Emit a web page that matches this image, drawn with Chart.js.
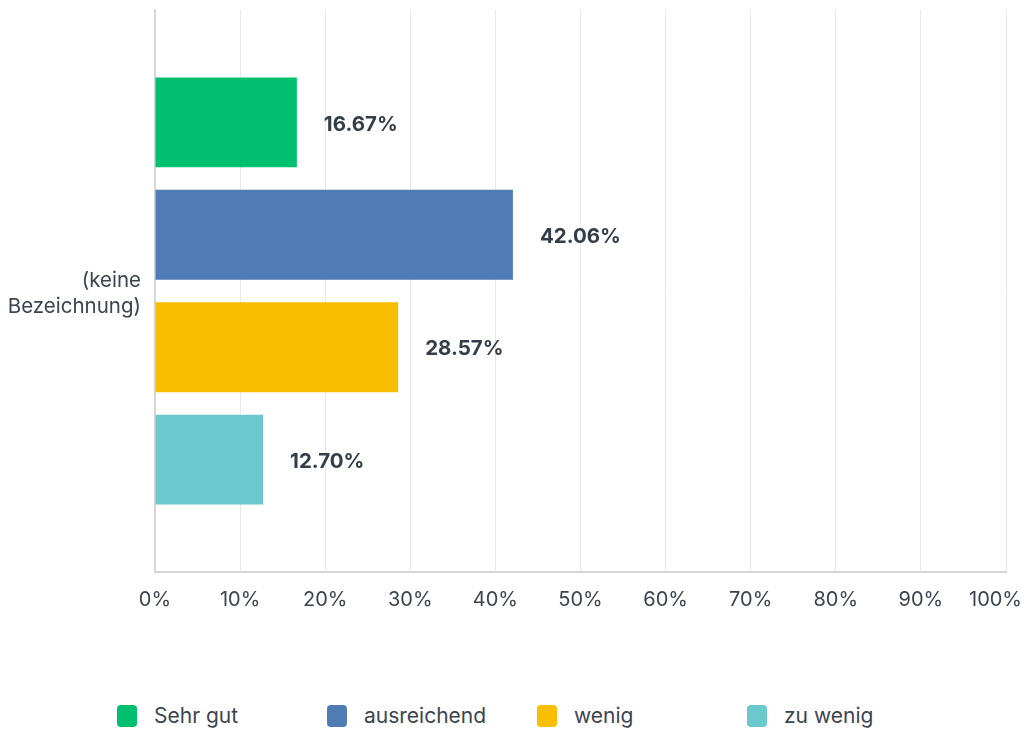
<!DOCTYPE html>
<html>
<head>
<meta charset="utf-8">
<script src="https://cdn.jsdelivr.net/npm/chart.js@4"></script>
<style>
	body { margin: 0; background: #fff; font-family: Inter, sans-serif; }
	#wrap { position: relative; width: 1026px; height: 640px; }
	#legend { position: absolute; top: 703px; left: 117px; display: flex; }
	.item { width: 210px; display: flex; align-items: center; font-size: 21px; color: #3b4550; }
	.box { width: 20px; height: 22px; border-radius: 4px; margin-right: 17px; }
</style>
</head>
<body>
<div id="wrap"><canvas id="chart"></canvas></div>
<div id="legend"></div>
<script>
	const categories = [['(keine', 'Bezeichnung)']];
	const seriesNames = ['Sehr gut', 'ausreichend', 'wenig', 'zu wenig'];
	const seriesValues = [[16.67], [42.06], [28.57], [12.70]];
	const seriesColors = ['#00bf6f', '#507cb6', '#f9be00', '#6bc8cd'];
	const tickValues = [0, 10, 20, 30, 40, 50, 60, 70, 80, 90, 100];

	// Prozentwerte rechts neben den Balken
	const valueLabels = {
		id: 'valueLabels',
		afterDatasetsDraw(chart) {
			const ctx = chart.ctx;
			ctx.save();
			ctx.font = 'bold 20.5px Inter, sans-serif';
			ctx.fillStyle = '#333e48';
			ctx.textBaseline = 'middle';
			chart.data.datasets.forEach((ds, i) => {
				chart.getDatasetMeta(i).data.forEach((bar, j) => {
					ctx.fillText(ds.data[j].toFixed(2) + '%', bar.x + 27, bar.y + 2);
				});
			});
			ctx.restore();
		}
	};

	// letzte Achsenbeschriftung (100%) so verschieben, dass sie nicht abgeschnitten wird
	const lastTick = {
		id: 'lastTick',
		afterDraw(chart) {
			const x = chart.scales.x;
			const v = tickValues[tickValues.length - 1];
			const ctx = chart.ctx;
			ctx.save();
			ctx.font = '20px Inter, sans-serif';
			ctx.fillStyle = '#3b4550';
			ctx.textBaseline = 'middle';
			ctx.textAlign = 'right';
			const w = ctx.measureText(v + '%').width;
			const right = Math.min(x.getPixelForValue(v) + w / 2, chart.width - 4);
			ctx.fillText(v + '%', right, x.top + 28);
			ctx.restore();
		}
	};

	new Chart(document.getElementById('chart'), {
		type: 'bar',
		data: {
			labels: categories,
			datasets: seriesNames.map((name, i) => ({
				label: name,
				data: seriesValues[i],
				backgroundColor: seriesColors[i],
				categoryPercentage: 0.8,
				barPercentage: 0.8
			}))
		},
		options: {
			indexAxis: 'y',
			responsive: true,
			maintainAspectRatio: false,
			animation: false,
			layout: { padding: { top: 10, right: 20 } },
			scales: {
				x: {
					min: 0,
					max: 100,
					afterBuildTicks: (scale) => { scale.ticks = tickValues.map(v => ({ value: v })); },
					afterFit: (scale) => {
						scale.height = 68;
						scale.paddingLeft = 0;
						scale.paddingRight = 0;
					},
					ticks: {
						callback: (v) => v === 100 ? '' : v + '%',
						color: '#3b4550',
						font: { family: 'Inter', size: 20 },
						padding: 16,
						maxRotation: 0
					},
					grid: { color: '#e8e8e8', drawTicks: false },
					border: { color: '#d6d6d6', width: 2 }
				},
				y: {
					afterFit: (scale) => {
						scale.width = 155;
						scale.paddingTop = 0;
						scale.paddingBottom = 0;
					},
					ticks: {
						color: '#3b4550',
						font: { family: 'Inter', size: 20.5, lineHeight: 1.28 },
						padding: 14,
						labelOffset: 3
					},
					grid: { display: false, drawTicks: false },
					border: { color: '#d6d6d6', width: 2 }
				}
			},
			plugins: {
				legend: { display: false },
				tooltip: { enabled: false }
			}
		},
		plugins: [valueLabels, lastTick]
	});

	const legend = document.getElementById('legend');
	seriesNames.forEach((name, i) => {
		const item = document.createElement('div');
		item.className = 'item';
		item.innerHTML = '<span class="box" style="background:' + seriesColors[i] + '"></span>' + name;
		legend.appendChild(item);
	});
</script>
</body>
</html>
